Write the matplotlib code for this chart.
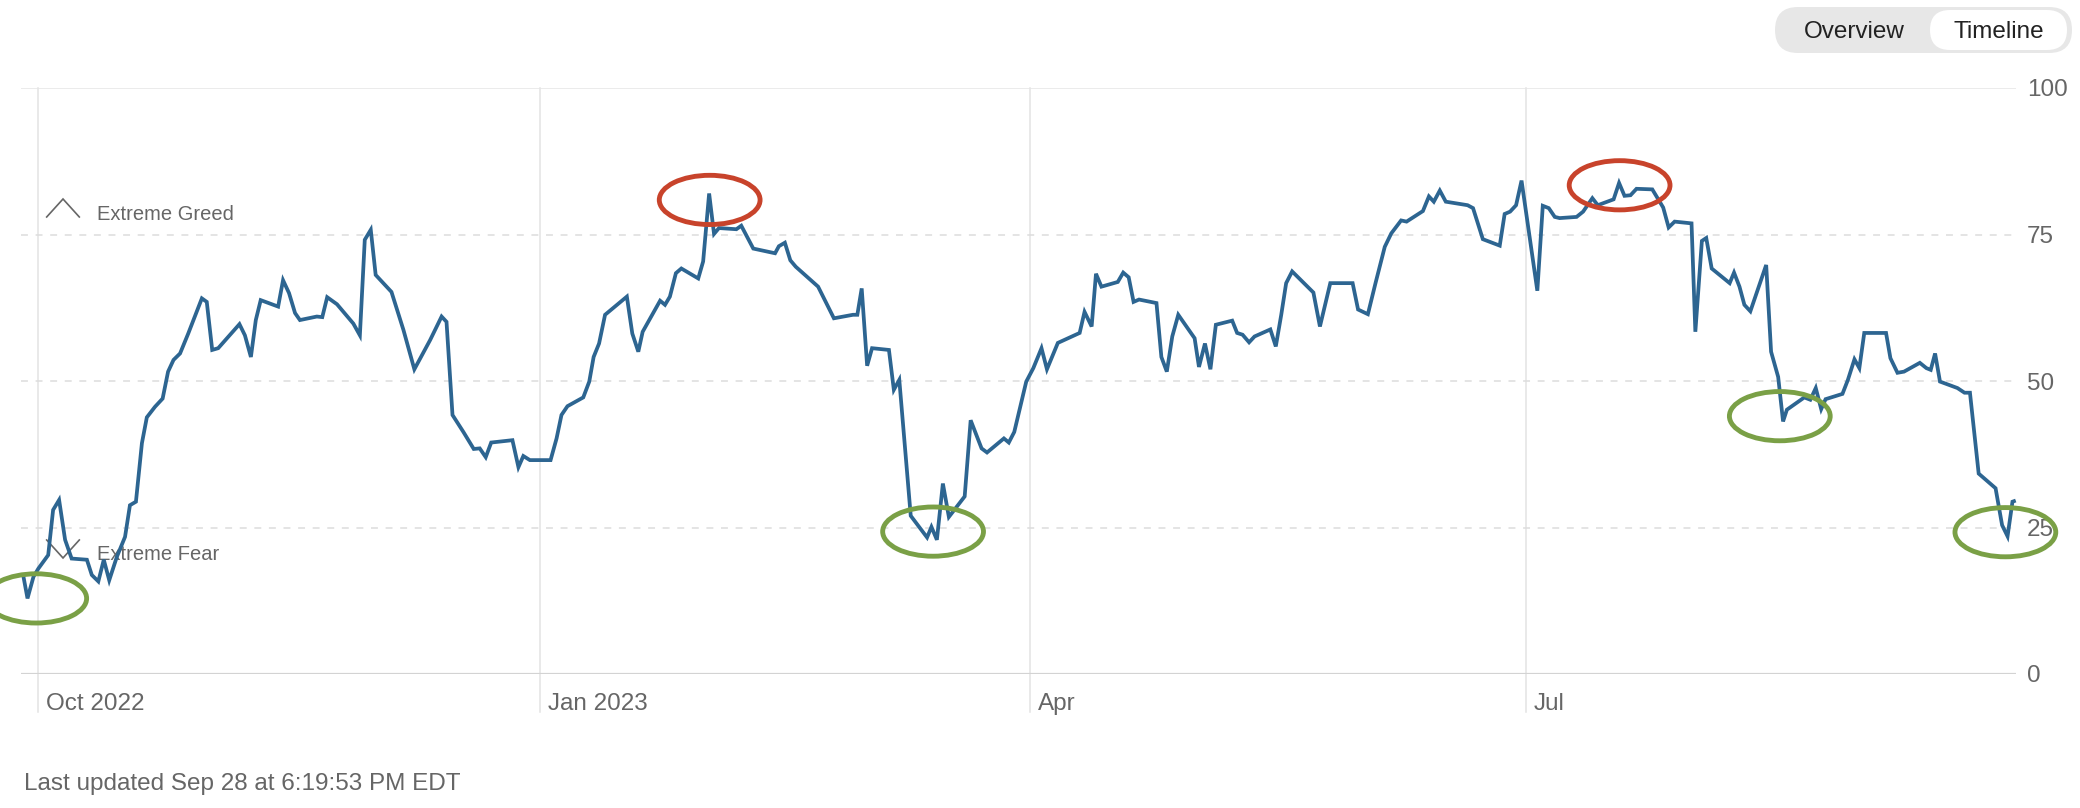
import matplotlib
matplotlib.use("Agg")
import matplotlib.pyplot as plt
import matplotlib.transforms as mtransforms
from matplotlib.patches import Ellipse, FancyBboxPatch
import pandas as pd

plt.rcParams['font.family'] = ['Liberation Sans', 'DejaVu Sans']
plt.rcParams['lines.scale_dashes'] = False

# ---------------- data ----------------
base_date = "2022-10-01"
# days since 2022-10-01
day = [
    -2.8, -2.0, -0.9, 0.0, 1.8, 2.7, 3.8, 4.9, 6.1, 8.9,
    9.8, 11.0, 12.0, 13.0, 14.4, 15.9, 16.8, 17.9, 19.0, 19.9,
    21.4, 22.8, 23.8, 24.8, 26.0, 27.5, 30.0, 30.9, 31.9, 33.0,
    36.9, 37.9, 39.0, 39.9, 40.8, 44.0, 44.9, 46.0, 47.1, 48.0,
    51.1, 52.1, 53.0, 54.8, 57.8, 59.0, 59.9, 61.0, 61.9, 64.8,
    67.0, 69.0, 71.9, 74.0, 74.9, 76.0, 78.0, 79.9, 81.0, 82.1,
    83.1, 87.0, 88.1, 89.0, 90.2, 94.0, 95.1, 96.0, 97.1, 100.0,
    101.1, 101.9, 102.9, 104.0, 108.0, 109.0, 110.1, 110.9, 114.1, 115.0,
    115.9, 117.0, 118.0, 121.1, 122.0, 123.1, 124.0, 124.9, 128.1, 129.0,
    131.2, 135.2, 135.9, 137.0, 138.0, 139.0, 143.1, 144.6, 146.0, 149.5,
    150.3, 151.1, 152.1, 153.0, 156.1, 157.0, 158.0, 160.1, 163.1, 163.9,
    164.9, 166.0, 167.1, 170.0, 171.1, 173.1, 174.1, 177.2, 178.1, 179.1,
    181.3, 182.6, 184.1, 185.1, 187.1, 191.1, 192.0, 193.3, 194.1, 195.1,
    198.1, 199.1, 200.1, 201.0, 202.0, 205.2, 206.1, 207.1, 208.1, 209.2,
    212.2, 213.0, 214.1, 215.1, 216.1, 219.1, 220.0, 221.0, 222.2, 223.2,
    226.1, 227.1, 228.1, 229.0, 230.1, 234.0, 235.2, 237.1, 241.2, 242.2,
    244.0, 245.4, 247.1, 248.3, 250.1, 251.1, 254.1, 255.2, 256.1, 257.2,
    258.3, 262.3, 263.3, 265.1, 268.2, 269.1, 270.1, 271.2, 272.2, 275.1,
    276.1, 277.2, 278.3, 279.2, 282.3, 283.5, 285.2, 286.2, 289.1, 290.1,
    291.1, 292.2, 293.3, 296.2, 298.2, 299.2, 300.3, 303.4, 304.1, 305.3,
    306.1, 307.1, 310.4, 311.2, 312.2, 313.1, 314.2, 317.1, 318.0, 319.3,
    320.2, 320.9, 324.1, 325.2, 326.2, 327.2, 328.0, 331.1, 332.1, 333.3,
    334.2, 335.1, 339.1, 339.9, 341.2, 342.4, 345.3, 346.5, 347.3, 348.1,
    349.0, 352.2, 353.5, 354.5, 356.1, 359.2, 360.4, 361.4, 362.3, 362.9,
]
fear_greed = [
    16.9, 12.9, 16.6, 18.0, 20.3, 28.0, 29.7, 22.9, 19.7, 19.5,
    16.9, 15.8, 19.5, 16.0, 20.0, 23.4, 28.8, 29.4, 39.4, 43.8,
    45.6, 47.0, 51.6, 53.6, 54.7, 58.1, 64.1, 63.5, 55.3, 55.6,
    59.7, 57.8, 54.1, 60.4, 63.8, 62.7, 67.2, 65.0, 61.6, 60.4,
    61.0, 60.9, 64.3, 63.1, 59.8, 57.8, 74.1, 75.8, 68.1, 65.2,
    58.7, 52.0, 57.0, 61.0, 60.1, 44.2, 41.3, 38.4, 38.5, 37.0,
    39.5, 39.9, 35.3, 37.2, 36.5, 36.5, 40.2, 44.2, 45.7, 47.2,
    49.9, 54.1, 56.4, 61.3, 64.4, 58.1, 55.0, 58.4, 63.7, 63.0,
    64.4, 68.4, 69.2, 67.5, 70.4, 82.0, 75.1, 76.1, 75.9, 76.5,
    72.6, 71.8, 73.0, 73.6, 70.6, 69.5, 66.1, 63.3, 60.7, 61.3,
    61.3, 65.8, 52.6, 55.6, 55.3, 48.5, 50.2, 27.0, 23.3, 25.1,
    22.9, 32.5, 26.8, 30.3, 43.3, 38.5, 37.8, 40.2, 39.5, 41.3,
    49.9, 52.2, 55.6, 52.0, 56.5, 58.2, 61.8, 59.3, 68.3, 66.1,
    66.9, 68.5, 67.7, 63.5, 63.9, 63.3, 54.1, 51.6, 57.6, 61.3,
    57.3, 52.4, 56.4, 52.0, 59.6, 60.3, 58.2, 57.9, 56.6, 57.6,
    58.8, 55.9, 61.3, 66.7, 68.7, 65.1, 59.3, 66.7, 66.7, 62.2,
    61.4, 66.7, 72.9, 75.2, 77.4, 77.2, 79.0, 81.5, 80.6, 82.5,
    80.6, 80.0, 79.5, 74.2, 73.1, 78.5, 78.9, 80.0, 84.2, 65.4,
    79.9, 79.5, 78.0, 77.8, 78.0, 78.9, 81.2, 80.0, 81.0, 83.8,
    81.6, 81.7, 82.8, 82.7, 79.6, 76.2, 77.2, 76.9, 58.4, 73.9,
    74.4, 69.2, 66.7, 68.5, 66.1, 63.0, 61.9, 69.8, 55.0, 50.7,
    43.1, 45.1, 47.2, 46.8, 48.8, 45.2, 46.9, 47.8, 50.2, 53.7,
    52.2, 58.2, 58.2, 53.9, 51.4, 51.6, 53.1, 52.2, 51.9, 54.7,
    49.9, 48.8, 48.0, 48.0, 34.2, 31.7, 25.4, 23.5, 29.4, 29.6,
]

month_ticks = ["2022-10-01", "2023-01-01", "2023-04-01", "2023-07-01"]
month_labels = ["Oct 2022", "Jan 2023", "Apr", "Jul"]
y_ticks = [0, 25, 50, 75, 100]
y_labels = ["0", "25", "50", "75", "100"]

# hand-drawn highlight circles: centre (day, value) and kind
circle_day = [-0.4, 123.2, 164.2, 290.2, 319.6, 361.0]
circle_val = [12.9, 80.9, 24.3, 83.4, 44.0, 24.2]
circle_kind = ["fear", "greed", "fear", "greed", "fear", "fear"]

updated_text = "Last updated Sep 28 at 6:19:53 PM EDT"

# ---------------- figure ----------------
W, H, DPI = 2080, 808, 100
fig = plt.figure(figsize=(W / DPI, H / DPI), dpi=DPI)
fig.patch.set_facecolor("white")
ax = fig.add_axes([21.4 / W, 134 / H, (2016 - 21.4) / W, 586 / H])
ax.set_facecolor("white")
for s in ax.spines.values():
    s.set_visible(False)

base = pd.Timestamp(base_date)
tick_days = [(pd.Timestamp(m) - base).days for m in month_ticks]

ax.set_xlim(-3.12, 362.95)
ax.set_ylim(0, 100)

# grid
for t in tick_days:
    ax.axvline(t, ymin=-0.065, ymax=1, color="#e3e3e3", lw=1.1,
               clip_on=False, zorder=1)
ax.axhline(100, color="#e6e6e6", lw=1.1, zorder=1)
for v in (25, 50, 75):
    ax.axhline(v, color="#dddddd", lw=1.1, dashes=(5, 5.5), zorder=1)
ax.axhline(0, color="#d3d3d3", lw=1.6, zorder=1)

# series
ax.plot(day, fear_greed, color="#2d6591", lw=2.7, solid_joinstyle="miter",
        solid_capstyle="butt", zorder=3, clip_on=False)

# x ticks
ax.set_xticks(tick_days, month_labels)
ax.tick_params(axis="x", length=0, pad=14.0, labelsize=17.5,
               labelcolor="#666666")
offset = mtransforms.ScaledTranslation(8 / DPI, 0, fig.dpi_scale_trans)
for lab in ax.get_xticklabels():
    lab.set_ha("left")
    lab.set_transform(lab.get_transform() + offset)

# y ticks on the right
ax.yaxis.tick_right()
ax.set_yticks(y_ticks, y_labels)
ax.tick_params(axis="y", length=0, pad=8, labelsize=17.5,
               labelcolor="#666666")
for lab in ax.get_yticklabels():
    lab.set_va("center_baseline")

# Extreme Greed / Extreme Fear markers
ax.plot([0.01268, 0.02086, 0.02903], [0.7799, 0.8106, 0.7799],
        transform=ax.transAxes, color="#666666", lw=1.2, zorder=2,
        solid_joinstyle="miter")
ax.text(0.03775, 0.7747, "Extreme Greed", transform=ax.transAxes,
        fontsize=14.5, color="#666666", va="baseline", ha="left", zorder=2)
ax.plot([0.01268, 0.02086, 0.02903], [0.2287, 0.1980, 0.2287],
        transform=ax.transAxes, color="#666666", lw=1.2, zorder=2,
        solid_joinstyle="miter")
ax.text(0.03775, 0.1945, "Extreme Fear", transform=ax.transAxes,
        fontsize=14.5, color="#666666", va="baseline", ha="left", zorder=2)

# highlight circles
kind_color = {"fear": "#7aa046", "greed": "#c8432b"}
for d, v, k in zip(circle_day, circle_val, circle_kind):
    ax.add_patch(Ellipse((d, v), width=18.5, height=8.4, fill=False,
                         ec=kind_color[k], lw=3.5, zorder=4, clip_on=False))

# footer
fig.text(24.5 / W, 18 / H, updated_text, fontsize=17.5, color="#666666",
         va="baseline", ha="left")

# Overview / Timeline toggle
outer = FancyBboxPatch((17.75, 7.55), 2.97, 0.46,
                       boxstyle="round,pad=0,rounding_size=0.23",
                       transform=fig.dpi_scale_trans, fc="#e7e7e7",
                       ec="none")
inner = FancyBboxPatch((19.30, 7.58), 1.37, 0.40,
                       boxstyle="round,pad=0,rounding_size=0.2",
                       transform=fig.dpi_scale_trans, fc="white", ec="none")
fig.add_artist(outer)
fig.add_artist(inner)
fig.text(18.54, 7.785, "Overview", transform=fig.dpi_scale_trans,
         fontsize=17.5, color="#222222", ha="center", va="center_baseline")
fig.text(19.99, 7.785, "Timeline", transform=fig.dpi_scale_trans,
         fontsize=17.5, color="#222222", ha="center", va="center_baseline")

fig.savefig("out.png", dpi=DPI, facecolor="white")
